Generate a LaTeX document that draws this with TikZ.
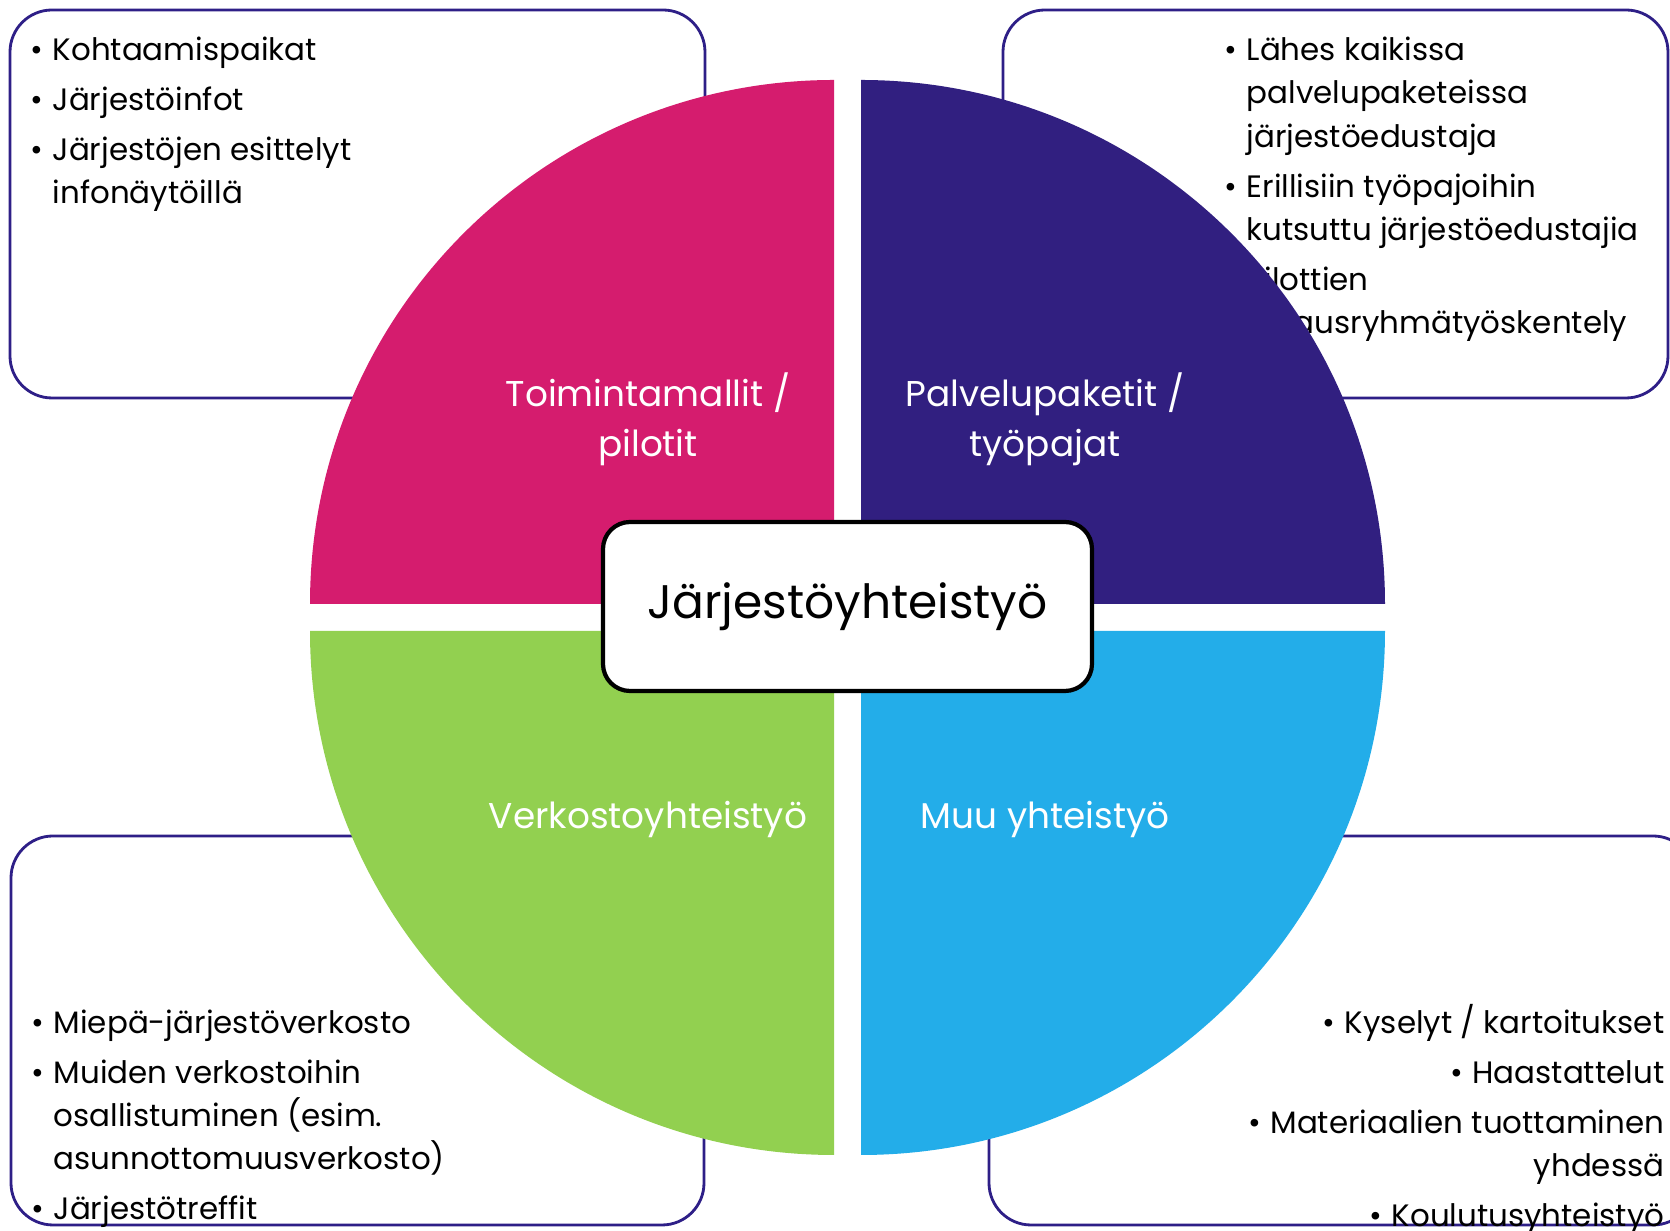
\documentclass[tikz,border=0pt]{standalone}
\usepackage{fontspec}
\setmainfont{Poppins}
\usepackage{tikz}
\definecolor{pinkq}{RGB}{213,28,110}
\definecolor{violetq}{RGB}{49,31,128}
\definecolor{greenq}{RGB}{146,208,80}
\definecolor{blueq}{RGB}{35,173,233}
\definecolor{framec}{RGB}{46,31,135}
\newcommand{\bl}{\makebox[0.22cm][l]{•}}
\newcommand{\hg}{\hspace*{0.22cm}}
\tikzset{
  infobox/.style={draw=framec,line width=0.8pt,rounded corners=0.42cm,fill=white},
  infotext/.style={inner sep=0pt,font=\fontsize{8.8}{12.3}\selectfont},
  quadlabel/.style={text=white,align=center,inner sep=0pt,font=\fontsize{10.2}{14.2}\selectfont},
  hubbox/.style={draw=black,line width=1.2pt,rounded corners=0.27cm,fill=white,
    minimum width=4.89cm,minimum height=1.69cm,font=\fontsize{13.4}{16}\selectfont}
}
\begin{document}
\begin{tikzpicture}
\useasboundingbox (0,0) rectangle (16.70,-12.31);
\fill[white] (0,0) rectangle (16.70,-12.31);
% boxes
\draw[infobox] (0.10,-0.10) rectangle (7.05,-3.98);
\draw[infobox] (10.03,-0.10) rectangle (16.68,-3.98);
\draw[infobox] (0.11,-8.36) rectangle (7.04,-12.25);
\draw[infobox] (9.89,-8.36) rectangle (16.95,-12.25);
% texts (anchored at the last line)
\node[infotext,anchor=base west,align=left] (tltext) at (0.30,-2.04)
  {\bl Kohtaamispaikat\\[0.07cm]
   \bl Järjestöinfot\\[0.07cm]
   \bl Järjestöjen esittelyt\\
   \hg infonäytöillä};
\node[infotext,anchor=base west,align=left] (trtext) at (12.24,-3.34)
  {\bl Lähes kaikissa\\
   \hg palvelupaketeissa\\
   \hg järjestöedustaja\\[0.07cm]
   \bl Erillisiin työpajoihin\\
   \hg kutsuttu järjestöedustajia\\[0.07cm]
   \bl Pilottien\\
   \hg ohjausryhmätyöskentely};
\node[infotext,anchor=base west,align=left] (bltext) at (0.31,-12.20)
  {\bl Miepä-järjestöverkosto\\[0.07cm]
   \bl Muiden verkostoihin\\
   \hg osallistuminen (esim.\\
   \hg asunnottomuusverkosto)\\[0.07cm]
   \bl Järjestötreffit};
\node[infotext,anchor=base east,align=right] (brtext) at (16.65,-12.27)
  {\bl Kyselyt / kartoitukset\\[0.07cm]
   \bl Haastattelut\\[0.07cm]
   \bl Materiaalien tuottaminen\\
   yhdessä\\[0.07cm]
   \bl Koulutusyhteistyö};
% quadrants
\fill[pinkq] (8.34,-6.04) -- ++(-5.24,0) arc[start angle=180,end angle=90,radius=5.24] -- cycle;
\fill[violetq] (8.61,-6.04) -- ++(0,5.24) arc[start angle=90,end angle=0,radius=5.24] -- cycle;
\fill[greenq] (8.34,-6.31) -- ++(0,-5.24) arc[start angle=270,end angle=180,radius=5.24] -- cycle;
\fill[blueq] (8.61,-6.31) -- ++(5.24,0) arc[start angle=0,end angle=-90,radius=5.24] -- cycle;
\node[quadlabel] (toiminta) at (6.48,-4.19) {Toimintamallit /\\pilotit};
\node[quadlabel] (palvelu) at (10.45,-4.19) {Palvelupaketit /\\työpajat};
\node[quadlabel] (verkosto) at (6.48,-8.19) {Verkostoyhteistyö};
\node[quadlabel] (muu) at (10.45,-8.19) {Muu yhteistyö};
\node[hubbox] (hub) at (8.475,-6.065) {Järjestöyhteistyö};
\end{tikzpicture}
\end{document}
